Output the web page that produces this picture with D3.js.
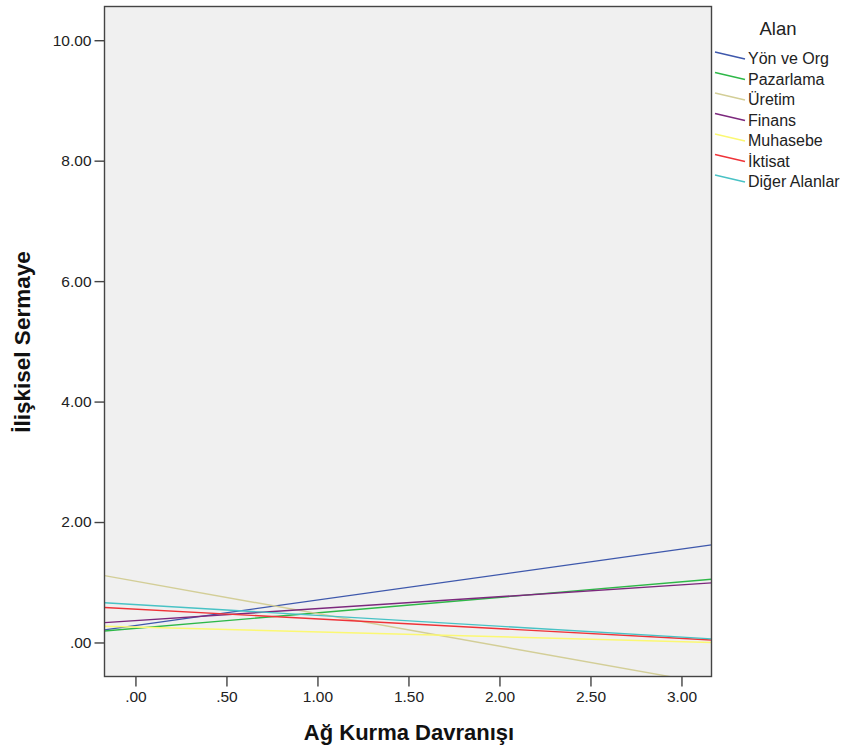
<!DOCTYPE html>
<html>
<head>
<meta charset="utf-8">
<script src="https://cdn.jsdelivr.net/npm/d3@7"></script>
<style>
  html, body { margin: 0; padding: 0; background: #fff; }
  svg { display: block; font-family: "Liberation Sans", Arial, sans-serif; }
</style>
</head>
<body>
<svg id="chart" width="845" height="748"></svg>
<script>
// Fit lines per field: value at the left and right edge of the x range
const groups = ["Yön ve Org", "Pazarlama", "Üretim", "Finans", "Muhasebe", "İktisat", "Diğer Alanlar"];
const colors = ["#3e58ac", "#2eb848", "#d3ce97", "#7c287d", "#fbf873", "#ef3338", "#48c2c5"];
const xRange = [-0.17, 3.165];
const startValues = [0.21, 0.19, 1.11, 0.33, 0.27, 0.58, 0.66];
const endValues = [1.62, 1.05, -0.69, 0.99, 0.00, 0.04, 0.06];
const xTicks = [0, 0.5, 1, 1.5, 2, 2.5, 3];
const yTicks = [0, 2, 4, 6, 8, 10];
const yRange = [-0.565, 10.56];

const svg = d3.select("#chart");
const plot = { left: 104.5, right: 711.5, top: 6.5, bottom: 676.5 };

const x = d3.scaleLinear().domain(xRange).range([plot.left, plot.right]);
const y = d3.scaleLinear().domain(yRange).range([plot.bottom, plot.top]);

const fmt = v => d3.format(".2f")(v).replace(/^0\./, ".");

// plot background
svg.append("rect")
  .attr("x", plot.left).attr("y", plot.top)
  .attr("width", plot.right - plot.left).attr("height", plot.bottom - plot.top)
  .attr("fill", "#f0f0f0");

svg.append("clipPath").attr("id", "clip")
  .append("rect")
  .attr("x", plot.left).attr("y", plot.top)
  .attr("width", plot.right - plot.left).attr("height", plot.bottom - plot.top);

const lineGen = d3.line().x(d => x(d[0])).y(d => y(d[1]));
svg.append("g").attr("clip-path", "url(#clip)")
  .selectAll("path")
  .data(groups)
  .join("path")
  .attr("d", (g, i) => lineGen([[xRange[0], startValues[i]], [xRange[1], endValues[i]]]))
  .attr("fill", "none")
  .attr("stroke", (g, i) => colors[i])
  .attr("stroke-width", 1.4);

// frame
svg.append("rect")
  .attr("x", plot.left).attr("y", plot.top)
  .attr("width", plot.right - plot.left).attr("height", plot.bottom - plot.top)
  .attr("fill", "none").attr("stroke", "#444").attr("stroke-width", 1.4);

// axes
const xAxis = d3.axisBottom(x).tickValues(xTicks).tickFormat(fmt).tickSize(10).tickPadding(4);
const gx = svg.append("g").attr("transform", `translate(0,${plot.bottom})`).call(xAxis);
gx.select(".domain").remove();
gx.selectAll(".tick line").attr("stroke", "#444").attr("stroke-width", 1.4);
gx.selectAll(".tick text").attr("fill", "#222").style("font-size", "15.5px");

const yAxis = d3.axisLeft(y).tickValues(yTicks).tickFormat(fmt).tickSize(10).tickPadding(3);
const gy = svg.append("g").attr("transform", `translate(${plot.left},0)`).call(yAxis);
gy.select(".domain").remove();
gy.selectAll(".tick line").attr("stroke", "#444").attr("stroke-width", 1.4);
gy.selectAll(".tick text").attr("fill", "#222").style("font-size", "15.5px");

// axis titles
svg.append("text")
  .attr("x", 409).attr("y", 740)
  .attr("text-anchor", "middle")
  .style("font-size", "22px").style("font-weight", "bold").attr("fill", "#111")
  .text("Ağ Kurma Davranışı");

svg.append("text")
  .attr("transform", "translate(30,342) rotate(-90)")
  .attr("text-anchor", "middle")
  .style("font-size", "22.5px").style("font-weight", "bold").attr("fill", "#111")
  .text("İlişkisel Sermaye");

// legend
svg.append("text")
  .attr("x", 778).attr("y", 35)
  .attr("text-anchor", "middle")
  .style("font-size", "18.5px").attr("fill", "#222")
  .text("Alan");

const legend = svg.append("g");
const item = legend.selectAll("g")
  .data(groups)
  .join("g")
  .attr("transform", (g, i) => `translate(0,${58 + i * 20.5})`);
item.append("line")
  .attr("x1", 715).attr("y1", -6).attr("x2", 745).attr("y2", 1)
  .attr("stroke", (g, i) => colors[i]).attr("stroke-width", 1.4);
item.append("text")
  .attr("x", 748).attr("y", 6)
  .style("font-size", "16px").attr("fill", "#222")
  .text(g => g);
</script>
</body>
</html>
